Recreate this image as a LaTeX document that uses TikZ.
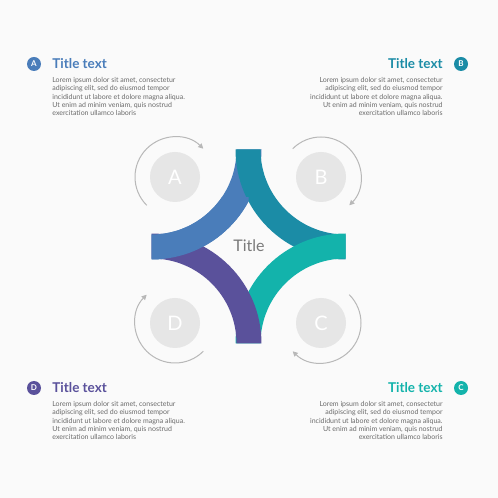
\documentclass[tikz,border=0pt]{standalone}
\usepackage{fontspec}
\setmainfont{Lato}
\usetikzlibrary{positioning, arrows.meta}
\definecolor{paper}{HTML}{FAFAFA}
\definecolor{bandA}{HTML}{4A7DBA}
\definecolor{bandB}{HTML}{1B8CA6}
\definecolor{bandC}{HTML}{13B3AB}
\definecolor{bandD}{HTML}{5A519B}
\definecolor{ringgray}{HTML}{B8B8B8}
\definecolor{discgray}{HTML}{E6E6E6}
\definecolor{bodygray}{HTML}{6A6A6A}
\definecolor{titlegray}{HTML}{7A7A7A}
\tikzstyle{Badge} = [circle, minimum size = 14pt, inner sep = 0pt, text = white, font = \fontsize{8}{8}\selectfont\bfseries]
\tikzstyle{Head} = [inner sep = 0pt, font = \fontsize{13.5}{13.5}\selectfont\bfseries]
\tikzstyle{Body} = [inner sep = 0pt, text = bodygray, font = \fontsize{7}{8.2}\selectfont]
\tikzstyle{Disc} = [circle, minimum size = 50pt, inner sep = 0pt, fill = discgray, text = white, font = \fontsize{20}{20}\selectfont]
\tikzstyle{Turn} = [ringgray, line width = 1pt, -{Triangle[width = 5pt, length = 5pt]}]
\newcommand{\petalA}{(261.5,348.5) arc[start angle=0, end angle=-90, radius=110] -- (151.5,263.5) arc[start angle=-90, end angle=0, radius=85] -- cycle}

\begin{document}
\begin{tikzpicture}[x=1pt, y=1pt]

    \fill[paper] (0,0) rectangle (498,498);

    %%%%%%%%%%%%%%%%%%%%%%
    \fill[bandA] \petalA;
    \fill[bandB] (235.5,348.5) arc[start angle=180, end angle=270, radius=110] -- (345.5,263.5) arc[start angle=270, end angle=180, radius=85] -- cycle;
    \fill[bandC] (345.5,264.5) arc[start angle=90, end angle=180, radius=110] -- (260.5,154.5) arc[start angle=180, end angle=90, radius=85] -- cycle;
    \fill[bandD] (261.5,154.5) arc[start angle=0, end angle=90, radius=110] -- (151.5,239.5) arc[start angle=90, end angle=0, radius=85] -- cycle;
    \begin{scope}
        \clip (0,0) rectangle (248.5,300);
        \fill[bandA] \petalA;
    \end{scope}

    \node[text = titlegray, font = \fontsize{16}{16}\selectfont] (title) at (249,252) {Title};

    %%%%%%%%%%%%%%%%%%%%%%
    \node[Disc] (discA) at (175,321) {A};
    \node[Disc] (discB) at (321,321) {B};
    \node[Disc] (discC) at (321,175) {C};
    \node[Disc] (discD) at (175,175) {D};

    \draw[Turn] ([shift={(225:40)}]discA.center) arc[start angle=225, end angle=45, radius=40];
    \draw[Turn] ([shift={(135:40)}]discB.center) arc[start angle=135, end angle=-45, radius=40];
    \draw[Turn] ([shift={(45:40)}]discC.center) arc[start angle=45, end angle=-135, radius=40];
    \draw[Turn] ([shift={(-45:40)}]discD.center) arc[start angle=-45, end angle=-225, radius=40];

    %%%%%%%%%%%%%%%%%%%%%%
    \node[Badge, fill = bandA] (badgeA) at (34,434) {A};
    \node[Head, text = bandA, right = 11pt of badgeA] (headA) {Title text};
    \node[Body, align = left, below = 8pt of headA.south west, anchor = north west] (bodyA) {Lorem ipsum dolor sit amet, consectetur\\adipiscing elit, sed do eiusmod tempor\\incididunt ut labore et dolore magna aliqua.\\Ut enim ad minim veniam, quis nostrud\\exercitation ullamco laboris};

    \node[Badge, fill = bandB] (badgeB) at (461,434) {B};
    \node[Head, text = bandB, left = 11pt of badgeB] (headB) {Title text};
    \node[Body, align = right, below = 8pt of headB.south east, anchor = north east] (bodyB) {Lorem ipsum dolor sit amet, consectetur\\adipiscing elit, sed do eiusmod tempor\\incididunt ut labore et dolore magna aliqua.\\Ut enim ad minim veniam, quis nostrud\\exercitation ullamco laboris};

    \node[Badge, fill = bandC] (badgeC) at (461,110) {C};
    \node[Head, text = bandC, left = 11pt of badgeC] (headC) {Title text};
    \node[Body, align = right, below = 8pt of headC.south east, anchor = north east] (bodyC) {Lorem ipsum dolor sit amet, consectetur\\adipiscing elit, sed do eiusmod tempor\\incididunt ut labore et dolore magna aliqua.\\Ut enim ad minim veniam, quis nostrud\\exercitation ullamco laboris};

    \node[Badge, fill = bandD] (badgeD) at (34,110) {D};
    \node[Head, text = bandD, right = 11pt of badgeD] (headD) {Title text};
    \node[Body, align = left, below = 8pt of headD.south west, anchor = north west] (bodyD) {Lorem ipsum dolor sit amet, consectetur\\adipiscing elit, sed do eiusmod tempor\\incididunt ut labore et dolore magna aliqua.\\Ut enim ad minim veniam, quis nostrud\\exercitation ullamco laboris};

\end{tikzpicture}
\end{document}
